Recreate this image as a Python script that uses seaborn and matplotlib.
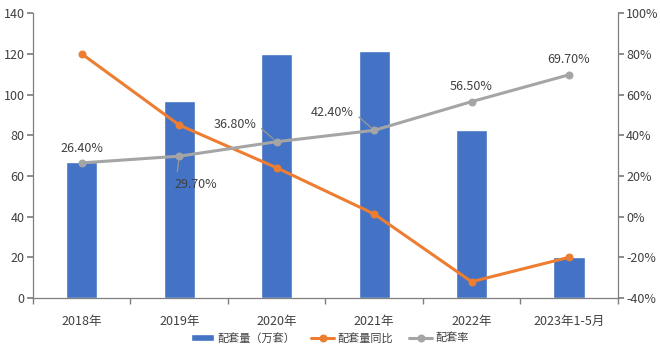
import matplotlib
matplotlib.use("Agg")
import matplotlib.pyplot as plt
import seaborn as sns
import pandas as pd
from matplotlib.ticker import FuncFormatter, MultipleLocator, FixedLocator

categories = ["2018年", "2019年", "2020年", "2021年", "2022年", "2023年1-5月"]
volume = [67, 97, 120, 121.5, 82.5, 20]
yoy = [80, 45, 24, 1.3, -32, -20]
rate = [26.4, 29.7, 36.8, 42.4, 56.5, 69.7]
rate_labels = ["26.40%", "29.70%", "36.80%", "42.40%", "56.50%", "69.70%"]

sns.set_theme(style="white")
plt.rcParams['font.family'] = ['Noto Sans CJK SC', 'DejaVu Sans']

BLUE = "#4472C4"
ORANGE = "#ED7D31"
GRAY = "#A5A5A5"
SPINE = "#7F7F7F"
TXT = "#404040"

df = pd.DataFrame({"cat": categories, "vol": volume, "yoy": yoy, "rate": rate})

fig = plt.figure(figsize=(6.6, 3.55), dpi=100)
ax = fig.add_axes([0.05, 0.1606, 0.886, 0.8024])
sns.barplot(data=df, x="cat", y="vol", color=BLUE, width=0.32, ax=ax,
            saturation=1, label="配套量（万套）")
ax.set_ylim(0, 140)
ax.yaxis.set_major_locator(MultipleLocator(20))
ax.set_xlim(-0.5, 5.5)
ax.set_xlabel("")
ax.set_ylabel("")

ax2 = ax.twinx()
x_pos = list(range(len(categories)))
sns.lineplot(x=x_pos, y=yoy, ax=ax2, color=ORANGE, linewidth=2.2, marker="o",
             markersize=5, markeredgecolor=ORANGE, sort=False, label="配套量同比")
sns.lineplot(x=x_pos, y=rate, ax=ax2, color=GRAY, linewidth=2.2, marker="o",
             markersize=5, markeredgecolor=GRAY, sort=False, label="配套率")
ax2.set_ylim(-40, 100)
ax2.yaxis.set_major_locator(MultipleLocator(20))
ax2.yaxis.set_major_formatter(FuncFormatter(lambda v, p: f"{v:.0f}%"))
ax2.set_xlim(-0.5, 5.5)
if ax2.legend_:
    ax2.legend_.remove()

for a in (ax, ax2):
    for s in a.spines.values():
        s.set_visible(False)
ax.spines["left"].set_visible(True)
ax.spines["bottom"].set_visible(True)
ax2.spines["right"].set_visible(True)
for s in (ax.spines["left"], ax.spines["bottom"], ax2.spines["right"]):
    s.set_color(SPINE)
    s.set_linewidth(0.9)

ax.tick_params(axis="y", left=True, length=4, color=SPINE, labelsize=9, labelcolor=TXT, pad=2)
ax2.tick_params(axis="y", right=True, length=4, color=SPINE, labelsize=9, labelcolor=TXT, pad=2)
ax.tick_params(axis="x", bottom=False, labelsize=9, labelcolor=TXT, pad=6)
ax.xaxis.set_minor_locator(FixedLocator([i + 0.5 for i in range(-1, 6)]))
ax.tick_params(axis="x", which="minor", bottom=True, length=4, color=SPINE)

# data labels for rate: (x, y) text position in data coords, leader relpos or None
label_pos = [(0, 33.7, None), (1.17, 16.0, (0.05, 1.0)), (1.57, 45.4, (1.0, 0.5)),
             (2.57, 51.2, (1.0, 0.5)), (4.0, 64.1, None), (5.0, 77.4, None)]
for i, (lab, (tx, ty, rel)) in enumerate(zip(rate_labels, label_pos)):
    if rel is None:
        ax2.text(tx, ty, lab, ha="center", va="center", fontsize=9, color=TXT)
    else:
        ax2.annotate(lab, xy=(i, rate[i]), xytext=(tx, ty), ha="center", va="center",
                     fontsize=9, color=TXT,
                     arrowprops=dict(arrowstyle="-", color="#959595", lw=1.0,
                                     relpos=rel, shrinkA=2, shrinkB=3))

# legend
h1, l1 = ax.get_legend_handles_labels()
h2, l2 = ax2.get_legend_handles_labels()
if ax.legend_:
    ax.legend_.remove()
fig.legend(h1 + h2, l1 + l2, loc="center", bbox_to_anchor=(0.5, 0.048), ncol=3,
           frameon=False, fontsize=8, handlelength=2.1, columnspacing=1.4,
           handletextpad=0.3, labelcolor=TXT)

fig.savefig("out.png", dpi=100)
